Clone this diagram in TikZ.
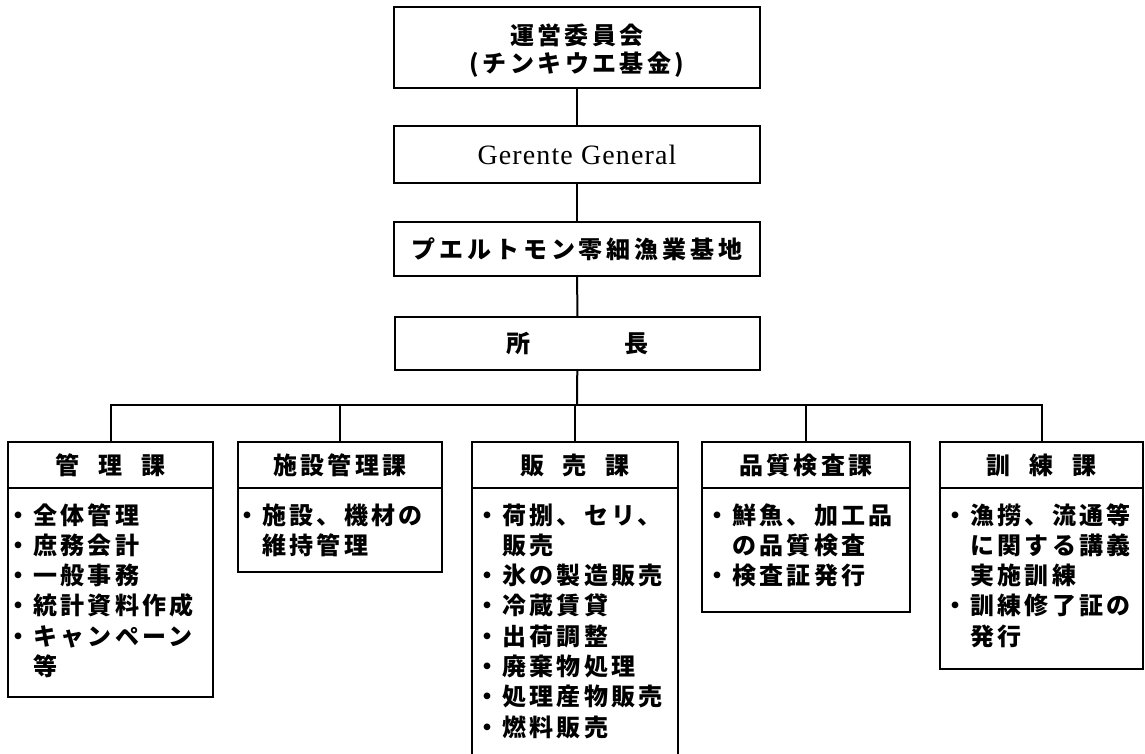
\documentclass[tikz,border=0pt]{standalone}
\usepackage{fontspec}
\newfontfamily\jp[LetterSpace=14]{Noto Sans CJK JP}
\newfontfamily\lat[LetterSpace=4]{Liberation Serif}
\newcommand\bl{\makebox[30pt][c]{・}}
\newcommand\ind{\hspace*{30pt}}
\begin{document}
\begin{tikzpicture}[x=1pt,y=-1pt,
  frame/.style={draw, line width=2pt, inner sep=0pt, font=\jp\bfseries\fontsize{24}{30}\selectfont},
  txt/.style={inner sep=0pt, font=\jp\bfseries\fontsize{24}{30}\selectfont},
  item/.style={anchor=base west, inner sep=0pt, font=\jp\bfseries\fontsize{24}{30}\selectfont},
  link/.style={line width=2pt},
  head/.style={frame, minimum height=46pt}]
\useasboundingbox (0,0) rectangle (1145,754);

% top chain
\node[frame, minimum width=366pt, minimum height=81pt] (com) at (577,47.5) {};
\node[txt] (com1) at (577,35) {運営委員会};
\node[txt] (com2) at (577,65) {(チンキウエ基金)};
\node[frame, minimum width=366pt, minimum height=57pt, font=\lat\fontsize{28}{30}\selectfont] (gg) at (577,154.5) {Gerente General};
\node[frame, minimum width=366pt, minimum height=54pt] (base) at (577,249) {\addfontfeature{LetterSpace=16}プエルトモン零細漁業基地};
\node[frame, minimum width=365pt, minimum height=53pt] (chief) at (577.5,343.5) {所\hspace{94pt}長};

% headers
\node[head, minimum width=205pt] (h1) at (110.5,465) {管\hspace{19pt}理\hspace{19pt}課};
\node[head, minimum width=204pt] (h2) at (340,465) {施設管理課};
\node[head, minimum width=206pt] (h3) at (575,465) {販\hspace{19pt}売\hspace{19pt}課};
\node[head, minimum width=208pt] (h4) at (806,465) {品質検査課};
\node[head, minimum width=203pt] (h5) at (1041.5,465) {訓\hspace{19pt}練\hspace{19pt}課};

% bodies
\node[frame, minimum width=205pt, minimum height=209pt] (b1) at (110.5,592.5) {};
\node[frame, minimum width=204pt, minimum height=84pt] (b2) at (340,530) {};
\node[inner sep=0pt, minimum width=206pt, minimum height=272pt] (b3) at (575,624) {};
\draw[link] (b3.north west) -- (b3.south west);
\draw[link] (b3.north east) -- (b3.south east);
\node[frame, minimum width=208pt, minimum height=124pt] (b4) at (806,550) {};
\node[frame, minimum width=203pt, minimum height=181pt] (b5) at (1041.5,578.5) {};

% items
\foreach \t [count=\i] in {{\bl 全体管理},{\bl 庶務会計},{\bl 一般事務},{\bl 統計資料作成},{\bl キャンペーン},{\ind 等}}
  \node[item, name=ia\i] at (3,{524+30.3*(\i-1)}) {\t};
\foreach \t [count=\i] in {{\bl 施設、機材の},{\ind 維持管理}}
  \node[item, name=ib\i] at (232,{524+30.3*(\i-1)}) {\t};
\foreach \t [count=\i] in {{\bl 荷捌、セリ、},{\ind 販売},{\bl 氷の製造販売},{\bl 冷蔵賃貸},{\bl 出荷調整},{\bl 廃棄物処理},{\bl 処理産物販売},{\bl 燃料販売}}
  \node[item, name=ic\i] at (472,{524+30.3*(\i-1)}) {\t};
\foreach \t [count=\i] in {{\bl 鮮魚、加工品},{\ind の品質検査},{\bl 検査証発行}}
  \node[item, name=id\i] at (702,{524+30.3*(\i-1)}) {\t};
\foreach \t [count=\i] in {{\bl 漁撈、流通等},{\ind に関する講義},{\ind 実施訓練},{\bl 訓練修了証の},{\ind 発行}}
  \node[item, name=ie\i] at (940,{524+30.3*(\i-1)}) {\t};

% connectors
\draw[link] (com) -- (gg);
\draw[link] (gg) -- (base);
\draw[link] (base) -- (chief);
\coordinate (bus) at (577,405);
\draw[link] (chief) -- (bus);
\draw[link] (h1.north) |- (bus) -| (h5.north);
\foreach \h in {h2,h3,h4} \draw[link] (\h.north) -- (\h.north |- bus);
\end{tikzpicture}
\end{document}
